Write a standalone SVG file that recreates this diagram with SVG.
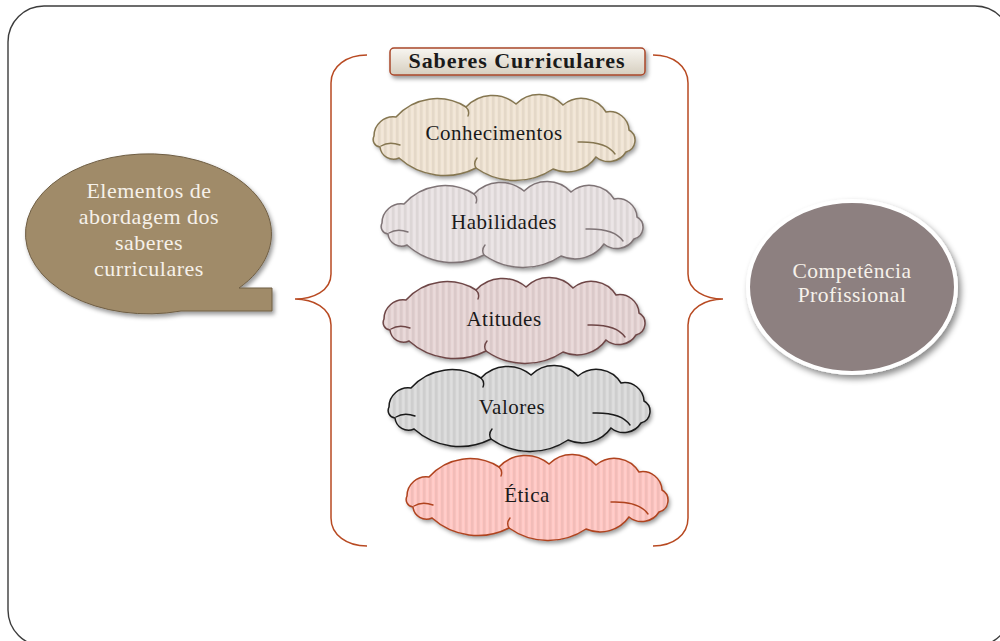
<svg xmlns="http://www.w3.org/2000/svg" width="1000" height="641" viewBox="0 0 1000 641">
<style>
.txt{font-family:"Liberation Serif","Times New Roman",serif;text-anchor:middle}
.ctext{font-size:21px;fill:#1a1a1a;letter-spacing:0.5px}
.wtext{font-size:21px;fill:#f6f1ea;letter-spacing:0.5px}
.brace{fill:none;stroke:#b84a22;stroke-width:1.5}
.inner{fill:none;stroke-width:1.4;stroke-linecap:round}
</style>
<defs>
<filter id="sh" x="-10%" y="-15%" width="125%" height="145%">
<feDropShadow dx="2" dy="3" stdDeviation="2" flood-color="#000" flood-opacity="0.4"/>
</filter>
<filter id="sh2" x="-10%" y="-10%" width="125%" height="130%">
<feDropShadow dx="3" dy="4" stdDeviation="3" flood-color="#000" flood-opacity="0.45"/>
</filter>
<pattern id="stripes" patternUnits="userSpaceOnUse" width="6" height="10">
<rect x="0" y="0" width="2.5" height="10" fill="#000" fill-opacity="0.05"/>
<rect x="3.5" y="0" width="1.2" height="10" fill="#fff" fill-opacity="0.18"/>
</pattern>
<linearGradient id="titleGrad" x1="0" y1="0" x2="0" y2="1">
<stop offset="0" stop-color="#f8f6f1"/>
<stop offset="1" stop-color="#d6cebf"/>
</linearGradient>
<path id="cloud" d="M 2,40 A 19.2,19.2 0 0 1 24,21 A 54.8,54.8 0 0 1 94,11 A 36.4,36.4 0 0 1 144,8 A 32.6,32.6 0 0 1 191,9 A 28.8,28.8 0 0 1 234,16 A 19.4,19.4 0 0 1 257,34 A 12,12 0 0 1 254,56 A 20.2,20.2 0 0 1 224,61 A 35.5,35.5 0 0 1 181,73 A 67.8,67.8 0 0 1 104,72 A 68.7,68.7 0 0 1 27,62 A 13.6,13.6 0 0 1 8,51 A 7.6,7.6 0 0 1 2,40 Z"/>
<path id="cloudInner" d="M 9,50 Q 17,45 28,49 M 206,46 Q 234,45 243,58 M 104,72 Q 101,67 105,62 M 94,11 Q 98,15 96,20"/>
</defs>

<g id="frame">
<rect x="8" y="6" width="1003" height="640" rx="36" ry="36" fill="none" stroke="#3c3c3c" stroke-width="1.4"/>
</g>

<g id="connectors">
<path class="brace" d="M 367,55 C 347,55 331,66 331,83 L 331,274 C 331,291 313,299 295,299 C 313,299 331,308 331,325 L 331,518 C 331,535 347,546 367,546"/>
<path class="brace" d="M 653,55 C 673,55 688,66 688,83 L 688,274 C 688,291 706,299 723,299 C 706,299 688,308 688,325 L 688,518 C 688,535 673,546 653,546"/>
</g>

<g id="elementos">
<path d="M 239,288 L 272,288 L 272,311 L 181,311 A 123,80 0 1 1 239,288 Z" fill="#a08b69" stroke="#6f5e44" stroke-width="1" filter="url(#sh)"/>
<text class="txt wtext" x="149" y="198" style="font-size:22px">Elementos de</text>
<text class="txt wtext" x="149" y="224" style="font-size:22px">abordagem dos</text>
<text class="txt wtext" x="149" y="250" style="font-size:22px">saberes</text>
<text class="txt wtext" x="149" y="276" style="font-size:22px">curriculares</text>
</g>

<g id="competencia">
<ellipse cx="852" cy="287" rx="104" ry="86" fill="#8d8080" stroke="#ffffff" stroke-width="4" filter="url(#sh2)"/>
<text class="txt wtext" x="852" y="278" style="font-size:21.5px">Competência</text>
<text class="txt wtext" x="852" y="302" style="font-size:21.5px">Profissional</text>
</g>

<g id="titulo">
<rect x="390" y="48" width="255" height="27" rx="4" ry="4" fill="url(#titleGrad)" stroke="#a9472a" stroke-width="1.5" filter="url(#sh)"/>
<text class="txt" x="517" y="68" font-size="22" font-weight="bold" fill="#1a1a1a" letter-spacing="0.9">Saberes Curriculares</text>
</g>

<g id="conhecimentos" transform="translate(372,96)">
<use href="#cloud" fill="#f0e4d3" filter="url(#sh)"/>
<use href="#cloud" fill="url(#stripes)"/>
<use href="#cloud" fill="none" stroke="#857650" stroke-width="1.5"/>
<use href="#cloudInner" class="inner" stroke="#857650"/>
<text class="txt ctext" x="122" y="44">Conhecimentos</text>
</g>

<g id="habilidades" transform="translate(380,183)">
<use href="#cloud" fill="#e8e1e2" filter="url(#sh)"/>
<use href="#cloud" fill="url(#stripes)"/>
<use href="#cloud" fill="none" stroke="#7e7375" stroke-width="1.5"/>
<use href="#cloudInner" class="inner" stroke="#7e7375"/>
<text class="txt ctext" x="124" y="46">Habilidades</text>
</g>

<g id="atitudes" transform="translate(382,279)">
<use href="#cloud" fill="#e6d4d4" filter="url(#sh)"/>
<use href="#cloud" fill="url(#stripes)"/>
<use href="#cloud" fill="none" stroke="#6e4646" stroke-width="1.5"/>
<use href="#cloudInner" class="inner" stroke="#6e4646"/>
<text class="txt ctext" x="122" y="47">Atitudes</text>
</g>

<g id="valores" transform="translate(387,367)">
<use href="#cloud" fill="#d9d9d9" filter="url(#sh)"/>
<use href="#cloud" fill="url(#stripes)"/>
<use href="#cloud" fill="none" stroke="#1a1a1a" stroke-width="1.5"/>
<use href="#cloudInner" class="inner" stroke="#1a1a1a"/>
<text class="txt ctext" x="125" y="47">Valores</text>
</g>

<g id="etica" transform="translate(405,456)">
<use href="#cloud" fill="#ffc6c2" filter="url(#sh)"/>
<use href="#cloud" fill="url(#stripes)"/>
<use href="#cloud" fill="none" stroke="#b0431e" stroke-width="1.5"/>
<use href="#cloudInner" class="inner" stroke="#b0431e"/>
<text class="txt ctext" x="122" y="46">Ética</text>
</g>
</svg>
